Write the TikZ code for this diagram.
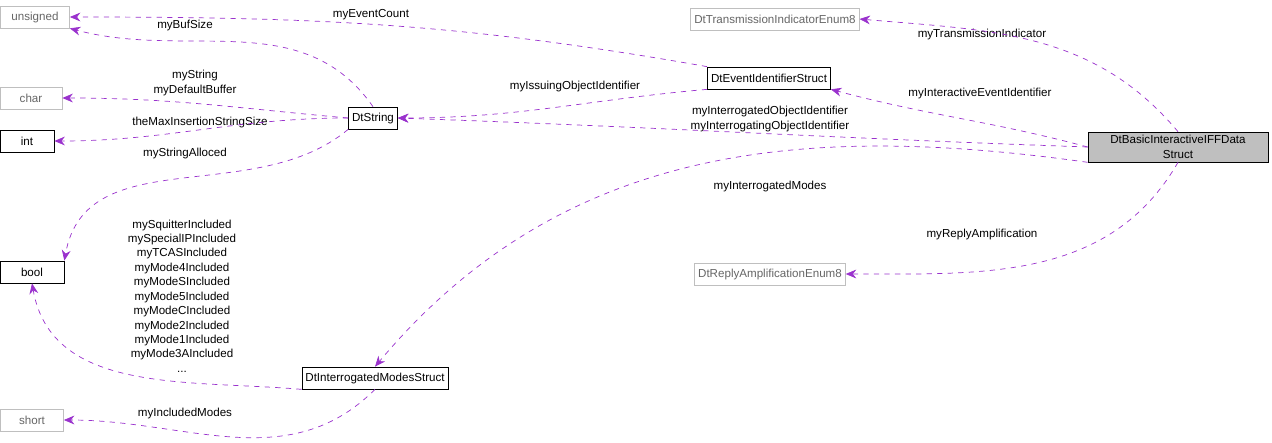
\documentclass[tikz,border=0pt]{standalone}
\usepackage{fontspec}
\setmainfont{Liberation Sans}
\usetikzlibrary{arrows.meta}
\definecolor{edgecol}{RGB}{154,50,205}
\definecolor{greyline}{RGB}{191,191,191}
\tikzset{
  cls/.style={draw=black, fill=white, inner sep=2pt, minimum height=0.44cm, font=\fontsize{6.6}{8.2}\selectfont},
  ext/.style={cls, draw=greyline, text=black!60},
  main/.style={cls, fill=black!25, align=center, minimum width=3.6cm},
  rel/.style={draw=edgecol, dashed, -{Stealth[length=6pt,width=5pt]}},
  lab/.style={font=\fontsize{6.6}{8.2}\selectfont, align=center, inner sep=1pt}
}
\begin{document}
\begin{tikzpicture}[x=0.02cm, y=-0.02cm]
                \useasboundingbox (0,0) rectangle (1272,443);
                \node[ext, minimum width=1.38cm] (U) at (35,17){unsigned};
                \node[ext, minimum width=1.24cm] (C) at (31,98){char};
                \node[cls, minimum width=1.08cm] (I) at (27,141){int};
                \node[cls, minimum width=1.28cm] (B) at (32,272){bool};
                \node[ext, minimum width=1.26cm] (S) at (32,420){short};
                \node[cls] (STR) at (373,118){DtString};
                \node[cls] (EVT) at (769,78){DtEventIdentifierStruct};
                \node[ext] (TRN) at (775,19){DtTransmissionIndicatorEnum8};
                \node[main] (M) at (1178,147){DtBasicInteractiveIFFData\\Struct};
                \node[ext] (RPL) at (770,274){DtReplyAmplificationEnum8};
                \node[cls] (MOD) at (375,378){DtInterrogatedModesStruct};

                % edge labels
                \node[lab] at (371,15){myEventCount};
                \node[lab] at (185,26){myBufSize};
                \node[lab] at (195,83){myString\\myDefaultBuffer};
                \node[lab] at (200,122){theMaxInsertionStringSize};
                \node[lab] at (185,153){myStringAlloced};
                \node[lab] at (575,86){myIssuingObjectIdentifier};
                \node[lab] at (982,34){myTransmissionIndicator};
                \node[lab] at (980,93){myInteractiveEventIdentifier};
                \node[lab] at (770,119){myInterrogatedObjectIdentifier\\myInterrogatingObjectIdentifier};
                \node[lab] at (770,186){myInterrogatedModes};
                \node[lab] at (982,234){myReplyAmplification};
                \node[lab] at (182,296){mySquitterIncluded\\mySpecialIPIncluded\\myTCASIncluded\\myMode4Included\\myModeSIncluded\\myMode5Included\\myModeCIncluded\\myMode2Included\\myMode1Included\\myMode3AIncluded\\...};
                \node[lab] at (185,413){myIncludedModes};

                \draw[rel] (EVT.north west) to[out=170,in=0] (U.east);
                \draw[rel] (STR.north) to[out=125,in=-15] (U.south east);
                \draw[rel] (STR.west) to[out=175,in=0] (C.east);
                \draw[rel] (STR.west) to[out=180,in=0] (I.east);
                \draw[rel] (STR.south west) to[out=-140,in=80] (B.north east);
                \draw[rel] (EVT.south west) to[out=185,in=0] (STR.east);
                \draw[rel] (M.north) to[out=130,in=-5] (TRN.east);
                \draw[rel] (M.west) to[out=165,in=-15] (EVT.south east);
                \draw[rel] (M.west) to[out=178,in=-2] (STR.east);
                \draw[rel] (M.south west) to[out=172,in=50] (MOD.north);
                \draw[rel] (M.south) to[out=-120,in=0] (RPL.east);
                \draw[rel] (MOD.south west) to[out=175,in=-80] (B.south);
                \draw[rel] (MOD.south) to[out=-135,in=0] (S.east);
\end{tikzpicture}
\end{document}
